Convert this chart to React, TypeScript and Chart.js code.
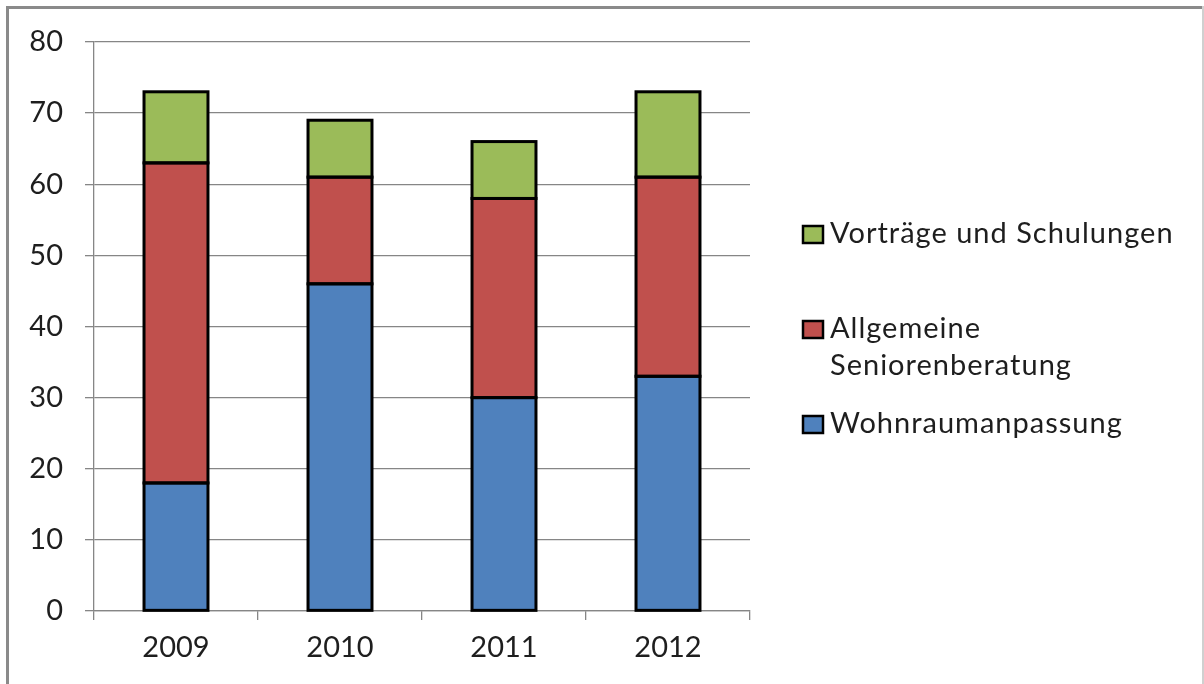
import React, { useEffect, useRef } from "react";
import { Chart, registerables } from "chart.js";

Chart.register(...registerables);

const categories = ["2009", "2010", "2011", "2012"];
const wohnraum = [18, 46, 30, 33];
const beratung = [45, 15, 28, 28];
const vortraege = [10, 8, 8, 12];
const seriesLabels = ["Wohnraumanpassung", "Allgemeine Seniorenberatung", "Vorträge und Schulungen"];
const legendLines = [["Wohnraumanpassung"], ["Allgemeine", "Seniorenberatung"], ["Vorträge und Schulungen"]];
const yTicks = [0, 10, 20, 30, 40, 50, 60, 70, 80];

const FONT = "Lato";
const GRID = "#868686";
const TEXT = "#1e1e1e";

export default function App() {
  const ref = useRef<HTMLCanvasElement | null>(null);
  useEffect(() => {
    if (!ref.current) return;
    const framePlugin = {
      id: "frame",
      beforeDraw(chart: any) {
        const ctx = chart.ctx;
        ctx.save();
        ctx.fillStyle = "#ffffff";
        ctx.fillRect(0, 0, chart.width, chart.height);
        ctx.fillStyle = "#8a8a8a";
        ctx.fillRect(6, 6, 3, chart.height - 6);
        ctx.fillRect(6, 6, chart.width - 7, 3);
        ctx.fillStyle = "#d0d0d0";
        ctx.fillRect(chart.width - 2, 6, 2, chart.height - 6);
        ctx.restore();
      },
      afterDatasetsDraw(chart: any) {
        const ctx = chart.ctx;
        ctx.save();
        ctx.strokeStyle = "#000";
        ctx.lineWidth = 3;
        ctx.lineJoin = "miter";
        chart.data.datasets.forEach((_: any, i: number) => {
          const meta = chart.getDatasetMeta(i);
          meta.data.forEach((el: any) => {
            const { x, y, base, width } = el.getProps(["x", "y", "base", "width"], true);
            const top = Math.min(y, base);
            const h = Math.abs(base - y);
            ctx.strokeRect(x - width / 2, top, width, h);
          });
        });
        ctx.restore();
      },
      afterDraw(chart: any) {
        const ctx = chart.ctx;
        ctx.save();
        const ds = chart.data.datasets;
        const tops = [415, 320, 225];
        ctx.font = `29px ${FONT}`;
        (ctx as any).letterSpacing = "1px";
        ctx.textBaseline = "alphabetic";
        for (let i = 0; i < ds.length; i++) {
          const y = tops[i];
          ctx.fillStyle = ds[i].backgroundColor;
          ctx.fillRect(803, y + 1, 20, 17);
          ctx.strokeStyle = "#000";
          ctx.lineWidth = 2.5;
          ctx.strokeRect(803, y + 1, 20, 17);
          ctx.fillStyle = TEXT;
          legendLines[i].forEach((t, j) => {
            ctx.fillText(t, 830, y + 18 + j * 37);
          });
        }
        ctx.restore();
      },
    };
    const chart = new Chart(ref.current, {
      type: "bar",
      data: {
        labels: categories,
        datasets: [
          { label: seriesLabels[0], data: wohnraum, backgroundColor: "#4F81BD" },
          { label: seriesLabels[1], data: beratung, backgroundColor: "#C0504D" },
          { label: seriesLabels[2], data: vortraege, backgroundColor: "#9BBB59" },
        ].map((d) => ({
          ...d,
          borderWidth: 0,
          inflateAmount: 0,
          categoryPercentage: 1,
          barPercentage: 0.39,
        })),
      },
      options: {
        animation: false,
        responsive: false,
        maintainAspectRatio: false,
        devicePixelRatio: 1,
        layout: { padding: { left: 0, top: 42, right: 454, bottom: 0 } },
        plugins: { legend: { display: false }, tooltip: { enabled: false } },
        scales: {
          x: {
            stacked: true,
            grid: { display: true, drawOnChartArea: false, offset: true, tickLength: 9, color: GRID, lineWidth: 1.3 },
            border: { display: true, color: GRID, width: 1.3 },
            ticks: { font: { family: FONT, size: 29 }, color: TEXT, padding: 10 },
            afterFit(scale: any) {
              scale.height = 73;
            },
          },
          y: {
            stacked: true,
            min: 0,
            max: 80,
            afterBuildTicks(scale: any) {
              scale.ticks = yTicks.map((v) => ({ value: v }));
            },
            grid: { color: GRID, lineWidth: 1.3, tickLength: 9 },
            border: { display: true, color: GRID, width: 1.3 },
            ticks: { font: { family: FONT, size: 29 }, color: TEXT, padding: 22 },
            afterFit(scale: any) {
              scale.width = 94;
            },
          },
        },
      },
      plugins: [framePlugin],
    });
    return () => chart.destroy();
  }, []);
  return (
    <div style={{ position: "fixed", left: 0, top: 0, width: 1204, height: 684 }}>
      <canvas ref={ref} width={1204} height={684} style={{ width: 1204, height: 684, display: "block" }} />
    </div>
  );
}
